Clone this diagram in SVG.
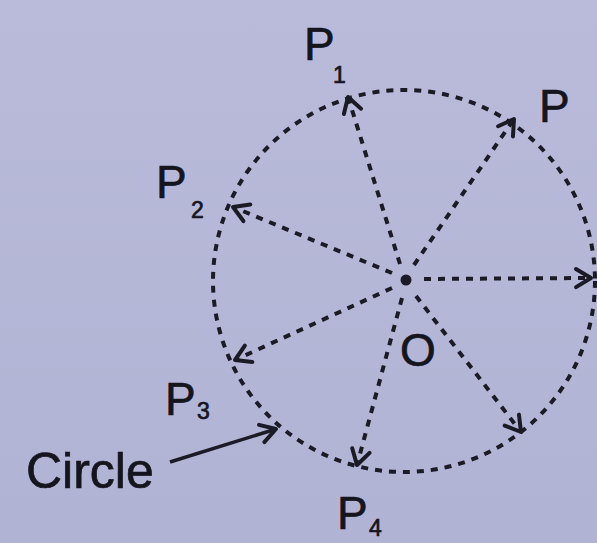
<svg xmlns="http://www.w3.org/2000/svg" width="597" height="543" viewBox="0 0 597 543">
<defs>
<linearGradient id="bg" x1="0" y1="0" x2="0" y2="1">
<stop offset="0" stop-color="#babbdb"/>
<stop offset="1" stop-color="#b1b3d4"/>
</linearGradient>
<marker id="ah" markerUnits="userSpaceOnUse" markerWidth="30" markerHeight="30" viewBox="-20 -15 30 30" refX="0" refY="0" orient="auto">
<path d="M -15 -9 L 0 0 L -15 9" fill="none" stroke="#1b1b26" stroke-width="4" stroke-linecap="round" stroke-linejoin="round"/>
</marker>
<style>
.dash{fill:none;stroke:#1b1b26;stroke-width:4;stroke-dasharray:7 7}
.lbl{font-family:"Liberation Sans",Arial,sans-serif;fill:#15151e;stroke:#15151e;stroke-width:0.7}
.big{font-size:46px}
.sub{font-size:23px}
</style>
</defs>
<rect width="597" height="543" fill="url(#bg)"/>
<g id="circle">
<circle cx="404" cy="281" r="191" class="dash"/>
</g>
<g id="center">
<circle cx="406" cy="280" r="5.5" fill="#1b1b26"/>
</g>
<g id="connectors">
<line x1="400" y1="264" x2="348" y2="97" class="dash" marker-end="url(#ah)"/>
<line x1="414" y1="265" x2="514" y2="119" class="dash" marker-end="url(#ah)"/>
<line x1="392" y1="273" x2="233" y2="207" class="dash" marker-end="url(#ah)"/>
<line x1="424" y1="279" x2="591" y2="278" class="dash" marker-end="url(#ah)"/>
<line x1="392" y1="288" x2="235" y2="360" class="dash" marker-end="url(#ah)"/>
<line x1="402" y1="298" x2="357" y2="465" class="dash" marker-end="url(#ah)"/>
<line x1="416" y1="296" x2="521" y2="432" class="dash" marker-end="url(#ah)"/>
<line x1="170" y1="462" x2="276" y2="429" fill="none" stroke="#1b1b26" stroke-width="3.5" marker-end="url(#ah)"/>
</g>
<g id="P1"><text class="lbl big" x="304" y="60">P</text><text class="lbl sub" x="333" y="83">1</text></g>
<g id="P"><text class="lbl big" x="539" y="122">P</text></g>
<g id="P2"><text class="lbl big" x="156" y="198">P</text><text class="lbl sub" x="191" y="218">2</text></g>
<g id="P3"><text class="lbl big" x="165" y="415">P</text><text class="lbl sub" x="197" y="419">3</text></g>
<g id="O"><text class="lbl big" x="400" y="366">O</text></g>
<g id="P4"><text class="lbl big" x="337" y="529">P</text><text class="lbl sub" x="369" y="536">4</text></g>
<g id="CircleLabel"><text class="lbl" x="26" y="488" font-size="50">Circle</text></g>
</svg>
